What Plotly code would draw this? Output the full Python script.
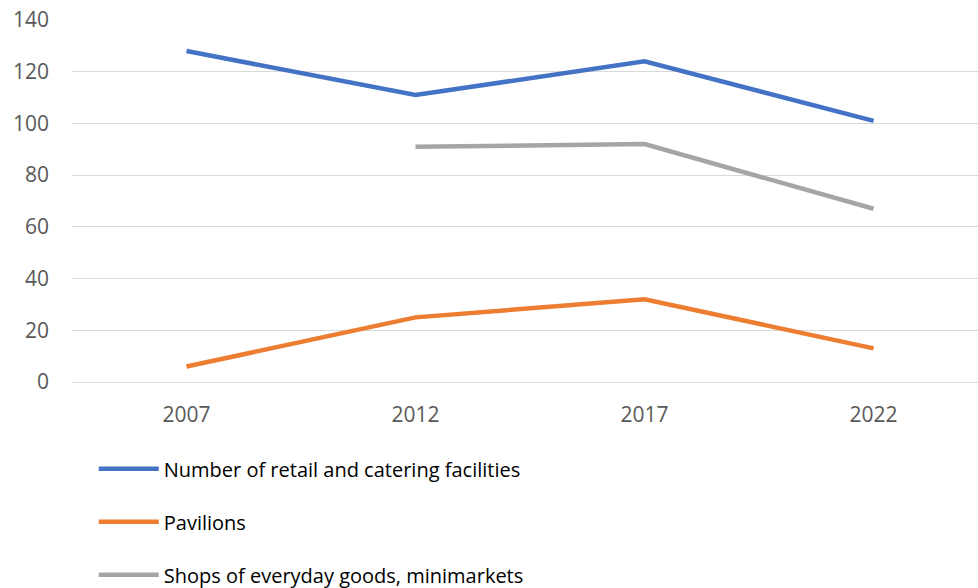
import plotly.graph_objects as go

years = ["2007", "2012", "2017", "2022"]
retail_catering = [128, 111, 124, 101]
pavilions = [6, 25, 32, 13]
shops_minimarkets = [None, 91, 92, 67]

series = [
    ("Number of retail and catering facilities", retail_catering, "#4472C4"),
    ("Pavilions", pavilions, "#ED7D31"),
    ("Shops of everyday goods, minimarkets", shops_minimarkets, "#A5A5A5"),
]

fig = go.Figure()
for i, (name, vals, color) in enumerate(series):
    fig.add_trace(go.Scatter(
        x=years, y=vals, name=name, mode="lines",
        line=dict(color=color, width=4.5),
        connectgaps=False, legendgroup=f"g{i}",
    ))

fig.update_layout(
    width=978, height=588,
    margin=dict(l=72, r=0, t=20, b=206, autoexpand=False),
    paper_bgcolor="white", plot_bgcolor="white",
    font=dict(family="Open Sans, sans-serif", color="#595959"),
    showlegend=True,
    legend=dict(
        x=0.024, y=-0.186, xanchor="left", yanchor="top",
        orientation="v", font=dict(size=20, color="#000000"),
        tracegroupgap=24, itemwidth=60, bgcolor="rgba(0,0,0,0)",
    ),
    xaxis=dict(
        type="category", range=[-0.5, 3.456],
        showgrid=False, showline=False, zeroline=False,
        ticks="", ticklabelstandoff=18,
        tickfont=dict(size=21, color="#595959"),
    ),
    yaxis=dict(
        range=[0, 140], dtick=20, tick0=0,
        showgrid=True, gridcolor="#D9D9D9", gridwidth=1.3,
        zeroline=True, zerolinecolor="#D9D9D9", zerolinewidth=1.3,
        showline=False, ticks="", ticklabelstandoff=22,
        tickfont=dict(size=21, color="#595959"),
    ),
)

fig.write_html("out.html")
